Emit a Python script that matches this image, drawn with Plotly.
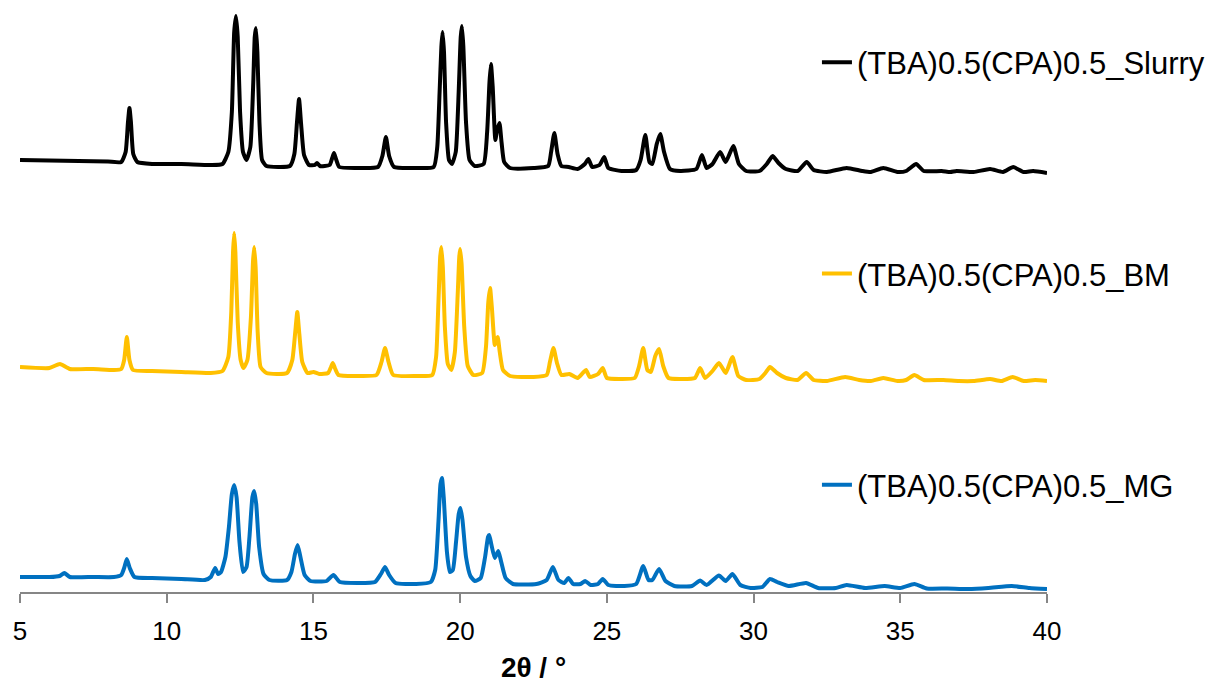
import plotly.graph_objects as go

# ---- data (2theta in degrees, intensity in arbitrary units, stacked as displayed) ----
slurry_x = [5.0, 6.0, 7.0, 8.0, 8.45, 8.6, 8.68, 8.73, 8.78, 8.86, 9.0, 9.5, 10.5, 11.5, 11.9, 12.1, 12.22, 12.3, 12.36, 12.42, 12.5, 12.6, 12.72, 12.85, 12.95, 13.0, 13.04, 13.09, 13.16, 13.25, 13.4, 14.2, 14.35, 14.44, 14.51, 14.58, 14.68, 14.85, 15.05, 15.12, 15.22, 15.55, 15.64, 15.70, 15.77, 15.88, 16.5, 17.2, 17.35, 17.47, 17.58, 17.75, 18.5, 19.1, 19.22, 19.3, 19.36, 19.40, 19.45, 19.52, 19.62, 19.72, 19.85, 19.95, 20.02, 20.06, 20.11, 20.2, 20.32, 20.5, 20.8, 20.92, 21.0, 21.05, 21.11, 21.2, 21.26, 21.34, 21.41, 21.5, 21.7, 22.5, 23.0, 23.1, 23.21, 23.32, 23.45, 23.7, 24.0, 24.25, 24.37, 24.5, 24.75, 24.91, 25.05, 25.5, 26.0, 26.15, 26.31, 26.45, 26.55, 26.7, 26.82, 26.95, 27.15, 27.5, 28.05, 28.24, 28.4, 28.6, 28.86, 29.05, 29.31, 29.5, 29.75, 30.2, 30.45, 30.65, 30.85, 31.1, 31.5, 31.81, 32.05, 32.5, 33.17, 33.7, 34.0, 34.42, 34.9, 35.2, 35.54, 35.8, 36.41, 36.7, 36.92, 37.5, 38.06, 38.5, 38.85, 39.2, 39.53, 40.0]
slurry_y = [432, 431.5, 431, 430.5, 430, 440, 470, 484, 470, 438, 430, 428, 428, 427, 428, 440, 480, 560, 576, 555, 480, 440, 432, 445, 510, 555, 564, 540, 470, 432, 426, 426, 438, 470, 493, 468, 437, 427, 427, 429, 426, 427, 434, 439, 433, 425, 424, 425, 436, 455, 436, 425, 424, 425, 445, 500, 545, 560, 540, 470, 432, 428, 440, 500, 555, 566, 545, 470, 432, 426, 428, 460, 510, 528, 505, 452, 462, 469, 450, 430, 424, 424, 426, 440, 459, 438, 426, 425, 423, 428, 433, 425, 427, 435, 424, 421, 422, 432, 457, 430, 428, 448, 458, 440, 423, 421, 423, 437, 424, 428, 440, 430, 446, 428, 421, 421, 428, 436, 429, 423, 421, 430, 422, 420, 424, 421, 420, 424, 420, 421, 428, 421, 421, 420, 421, 420, 423, 420, 425, 420, 421, 419]

bm_x = [5.0, 6.0, 6.36, 6.7, 7.5, 8.2, 8.45, 8.55, 8.64, 8.73, 8.85, 9.5, 10.5, 11.5, 11.9, 12.1, 12.2, 12.26, 12.30, 12.34, 12.42, 12.52, 12.62, 12.75, 12.87, 12.94, 12.98, 13.03, 13.1, 13.2, 13.4, 14.1, 14.28, 14.38, 14.45, 14.52, 14.62, 14.8, 15.0, 15.2, 15.5, 15.6, 15.66, 15.73, 15.85, 16.5, 17.15, 17.32, 17.44, 17.56, 17.72, 18.5, 19.05, 19.18, 19.26, 19.32, 19.36, 19.41, 19.48, 19.58, 19.7, 19.82, 19.92, 19.97, 20.0, 20.05, 20.14, 20.26, 20.45, 20.75, 20.88, 20.96, 21.02, 21.08, 21.18, 21.22, 21.28, 21.35, 21.46, 21.7, 22.5, 22.95, 23.06, 23.18, 23.3, 23.45, 23.72, 24.0, 24.18, 24.29, 24.42, 24.7, 24.86, 25.0, 25.5, 25.95, 26.1, 26.24, 26.38, 26.5, 26.65, 26.78, 26.92, 27.1, 27.5, 28.0, 28.18, 28.35, 28.6, 28.82, 29.05, 29.28, 29.48, 29.75, 30.2, 30.4, 30.56, 30.8, 31.1, 31.5, 31.79, 32.05, 32.5, 33.12, 33.6, 34.0, 34.42, 34.9, 35.2, 35.48, 35.8, 36.47, 37.0, 37.5, 38.06, 38.45, 38.83, 39.2, 39.6, 40.0]
bm_y = [225, 224, 228, 223, 223, 222, 223, 232, 255, 232, 222, 221, 220, 219, 221, 235, 280, 340, 359, 340, 270, 232, 224, 232, 275, 330, 345, 325, 260, 225, 219, 219, 232, 260, 280, 258, 230, 219, 220, 218, 219, 225, 229, 224, 217, 216, 217, 230, 244, 230, 217, 216, 217, 235, 290, 335, 345, 325, 265, 228, 222, 240, 300, 335, 343, 328, 265, 226, 217, 219, 245, 290, 304, 285, 247, 250, 255, 240, 222, 216, 215, 217, 230, 244, 229, 217, 218, 214, 219, 222, 215, 218, 224, 214, 213, 214, 226, 244, 222, 220, 236, 243, 226, 214, 213, 214, 224, 214, 221, 229, 219, 235, 216, 212, 213, 219, 225, 219, 214, 212, 219, 212, 211, 215, 212, 211, 214, 211, 212, 217, 212, 212, 211, 211, 213, 211, 215, 211, 212, 211]

mg_x = [5.0, 6.0, 6.35, 6.51, 6.7, 7.5, 8.2, 8.45, 8.55, 8.64, 8.74, 8.9, 9.5, 10.5, 11.3, 11.5, 11.65, 11.75, 11.85, 12.0, 12.12, 12.22, 12.30, 12.38, 12.48, 12.6, 12.72, 12.82, 12.92, 12.98, 13.05, 13.15, 13.3, 13.5, 14.1, 14.25, 14.37, 14.46, 14.55, 14.7, 14.9, 15.45, 15.68, 15.9, 16.5, 17.1, 17.3, 17.44, 17.58, 17.8, 18.5, 19.0, 19.15, 19.26, 19.33, 19.38, 19.44, 19.55, 19.65, 19.75, 19.86, 19.95, 20.01, 20.08, 20.2, 20.35, 20.5, 20.7, 20.85, 20.95, 20.99, 21.06, 21.18, 21.3, 21.4, 21.55, 21.8, 22.6, 22.95, 23.16, 23.35, 23.55, 23.69, 23.85, 24.1, 24.26, 24.45, 24.7, 24.86, 25.05, 25.6, 26.0, 26.24, 26.42, 26.55, 26.78, 27.0, 27.3, 27.9, 28.18, 28.4, 28.82, 29.05, 29.28, 29.55, 29.9, 30.3, 30.56, 30.8, 31.2, 31.79, 32.2, 32.8, 33.17, 33.8, 34.47, 35.0, 35.48, 35.9, 36.6, 37.3, 38.0, 38.8, 39.4, 40.0]
mg_y = [15, 15, 16, 19, 15, 15, 15, 17, 24, 33, 24, 15, 14, 13, 12, 15, 24, 18, 20, 35, 65, 98, 107, 95, 50, 20, 25, 55, 95, 101, 88, 45, 18, 12, 12, 20, 38, 47, 36, 17, 11, 11, 17, 10, 9, 10, 18, 25, 17, 9, 8, 10, 22, 70, 108, 114, 95, 40, 20, 22, 50, 78, 84, 72, 35, 16, 11, 14, 35, 55, 57, 48, 34, 41, 30, 14, 8, 8, 12, 25, 12, 9, 14, 8, 8, 11, 7, 8, 13, 7, 6, 8, 26, 12, 12, 23, 11, 6, 6, 11.5, 7, 16.5, 11, 18, 7, 4, 5, 13, 10, 6, 9, 4, 4, 7, 4, 6, 4, 8, 3.5, 3.5, 3, 4, 6, 4, 3]

series_names = ["(TBA)0.5(CPA)0.5_Slurry", "(TBA)0.5(CPA)0.5_BM", "(TBA)0.5(CPA)0.5_MG"]
series_colors = ["#000000", "#FFC000", "#0070C0"]
x_ticks = [5, 10, 15, 20, 25, 30, 35, 40]

FONT = "Arial, 'Liberation Sans', sans-serif"

fig = go.Figure()
for i, (xs, ys) in enumerate([(slurry_x, slurry_y), (bm_x, bm_y), (mg_x, mg_y)]):
    fig.add_trace(go.Scatter(
        x=xs, y=ys, mode="lines", name=series_names[i],
        legendgroup=f"g{i}",
        line=dict(color=series_colors[i], width=4, shape="spline", smoothing=0.5),
        hoverinfo="x+y+name",
    ))

fig.update_layout(
    width=1222, height=690,
    margin=dict(l=20, r=175, t=10, b=98),
    paper_bgcolor="white", plot_bgcolor="white",
    font=dict(family=FONT, color="#000000"),
    showlegend=True,
    legend=dict(
        x=0.776, xanchor="left", y=0.956, yanchor="top",
        font=dict(size=31, family=FONT, color="#000000"),
        bgcolor="rgba(0,0,0,0)", tracegroupgap=168,
        itemwidth=30,
    ),
    xaxis=dict(
        range=[5, 40], tickmode="array", tickvals=x_ticks,
        ticktext=[str(t) for t in x_ticks],
        showline=True, linecolor="#868686", linewidth=1.5,
        ticks="outside", ticklen=9, tickcolor="#868686", tickwidth=1.5,
        ticklabelstandoff=6,
        showgrid=False, zeroline=False,
        tickfont=dict(size=26, family=FONT, color="#000000"),
        title=dict(text="<b>2θ / °</b>", font=dict(size=28, family=FONT, color="#000000"), standoff=12),
    ),
    yaxis=dict(
        range=[0, 582], visible=False, showgrid=False, zeroline=False,
    ),
)

fig.write_html("out.html")
